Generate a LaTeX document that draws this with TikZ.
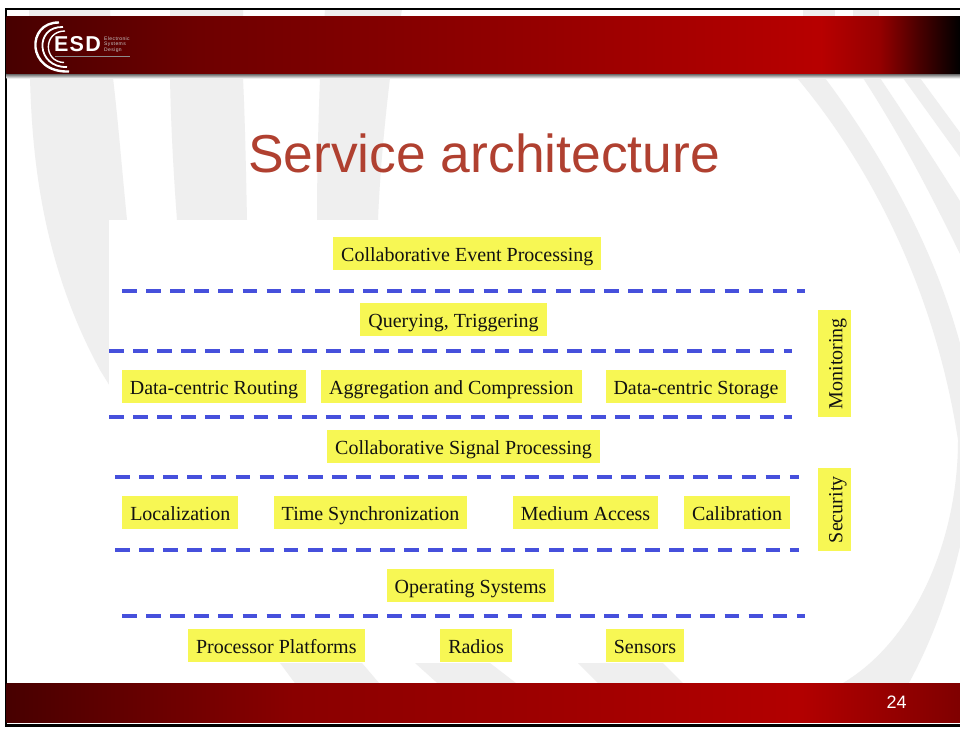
\documentclass[tikz,border=0pt]{standalone}
\usepackage{fontspec}
\setmainfont{Liberation Serif}
\setsansfont{Liberation Sans}
\usetikzlibrary{positioning}
\definecolor{boxyellow}{RGB}{247,247,84}
\definecolor{lineblue}{RGB}{70,80,220}
\definecolor{titlered}{RGB}{176,64,48}
\definecolor{bandgray}{RGB}{239,239,239}
\pgfdeclarehorizontalshading{headband}{100bp}{rgb(0bp)=(0.28,0,0);rgb(25bp)=(0.28,0,0);rgb(35bp)=(0.43,0,0);rgb(50bp)=(0.56,0,0);rgb(67.7bp)=(0.72,0,0);rgb(70.8bp)=(0.58,0,0);rgb(72.9bp)=(0.28,0,0);rgb(75bp)=(0,0,0);rgb(100bp)=(0,0,0)}
\pgfdeclarehorizontalshading{footband}{100bp}{rgb(0bp)=(0.28,0,0);rgb(25bp)=(0.28,0,0);rgb(40bp)=(0.54,0,0);rgb(66.6bp)=(0.70,0,0);rgb(75bp)=(0.50,0,0);rgb(100bp)=(0.50,0,0)}
\begin{document}
\begin{tikzpicture}
[x=1pt,y=-1pt,
srv/.style={fill=boxyellow,text=black!93,font=\fontsize{20}{20}\selectfont,inner xsep=8pt,inner ysep=0pt,outer sep=0pt,text height=24.7pt,text depth=8.3pt},
sep/.style={draw=lineblue,line width=4pt,dash pattern=on 14.7pt off 9.4pt},
band/.style={fill=bandgray,draw=none}]
\useasboundingbox (0,0) rectangle (960,731);
\fill[white] (0,0) rectangle (960,731);
% background swooshes
\fill[band] (29,9.5) -- (30,78) .. controls (32,150) and (40,260) .. (100,370) -- (280,663) -- (300,690) -- (385,690) -- (362,663) -- (127,220) .. controls (122,170) and (118,120) .. (113,78) -- (110,9.5) -- cycle;
\fill[band] (170,9.5) -- (170,78) .. controls (171,130) and (174,180) .. (177,220) -- (415,663) -- (445,690) -- (525,690) -- (490,663) -- (247,220) .. controls (246,170) and (245,120) .. (243,78) -- (243,9.5) -- cycle;
\fill[band] (325,9.5) -- (320,78) .. controls (318,130) and (317,180) .. (317,220) -- (578,663) -- (605,690) -- (690,690) -- (663,663) -- (378,220) .. controls (380,170) and (385,120) .. (390,78) -- (402,9.5) -- cycle;
\fill[band] (797,78) .. controls (870,165) and (935,290) .. (958,440) .. controls (958,540) and (915,640) .. (843,683) -- (838,690) -- (905,690) .. controls (945,620) and (975,520) .. (975,420) .. controls (960,290) and (890,165) .. (825,78) -- cycle;
\fill[band] (863,78) .. controls (890,120) and (920,170) .. (975,285) -- (975,225) .. controls (950,185) and (915,130) .. (880,78) -- cycle;
\fill[band] (903,78) -- (975,178) -- (975,153) -- (920,78) -- cycle;
\fill[band] (803,9.5) rectangle (835,17);
\fill[band] (853,9.5) rectangle (879,17);
\fill[white] (109,220) rectangle (870,663);
% frame and bars
\fill[black] (4.5,7.5) rectangle (960,9.5);
\fill[black] (4.5,7.5) rectangle (6.5,726.5);
\fill[black] (4.5,724) rectangle (960,726.5);
\shade[top color=black!65,bottom color=white] (6.5,73.5) rectangle (960,78.5);
\shade[shading=headband] (6.5,16.5) rectangle (960,73.5);
\shade[shading=footband] (6.5,683.5) rectangle (960,722.7);
% logo
\draw[white,line width=2.4pt] (59,22.5) .. controls (26,22) and (26,73) .. (69,71.5);
\draw[white,line width=1.8pt] (63,27) .. controls (34,26) and (36,68) .. (67,67);
\draw[white,line width=1.4pt] (65,31) .. controls (43,31) and (43,62) .. (64,62.5);
\node[font=\sffamily\bfseries\fontsize{21.5}{22}\selectfont\addfontfeature{LetterSpace=6},text=white,inner sep=0pt] (esd) at (77.5,44) {ESD};
\node[font=\sffamily\fontsize{5}{5.4}\selectfont\addfontfeature{LetterSpace=8},text=white!78!black,inner sep=0pt,align=left,anchor=west] (esdname) at (104,44.5) {Electronic\\Systems\\Design};
\coordinate (stra) at (55,56.5); \coordinate (strb) at (130,56.5);
\draw[white!55!black,line width=1pt] (stra) -- (strb);
% title and page number
\node[font=\sffamily\fontsize{53.4}{53.4}\selectfont,text=titlered,anchor=base,inner sep=0pt] (title) at (484,172.7) {Service architecture};
\node[font=\sffamily\fontsize{18}{18}\selectfont,text=white,anchor=base,inner sep=0pt] (page) at (896.7,708) {24};
% service boxes
\node[srv] (event) at (467.25,253.7) {Collaborative Event Processing};
\node[srv,below=33pt of event,xshift=-13.75pt] (query) {Querying, Triggering};
\node[srv,below=33.5pt of query,xshift=-239.5pt] (routing) {Data-centric Routing};
\node[srv,right=15pt of routing] (aggreg) {Aggregation and Compression};
\node[srv,right=24pt of aggreg] (storage) {Data-centric Storage};
\node[srv,below=27.3pt of routing,xshift=249.5pt] (signal) {Collaborative Signal Processing};
\node[srv,below=33pt of signal,xshift=-283.25pt] (local) {Localization};
\node[srv,right=35.5pt of local] (timesync) {Time Synchronization};
\node[srv,right=45.5pt of timesync] (medium) {Medium Access};
\node[srv,right=26pt of medium] (calib) {Calibration};
\node[srv,below=40pt of local,xshift=290.25pt] (opsys) {Operating Systems};
\node[srv,below=27pt of opsys,xshift=-194.2pt] (proc) {Processor Platforms};
\node[srv,right=75.7pt of proc] (radios) {Radios};
\node[srv,right=94pt of radios] (sensors) {Sensors};
\node[srv,rotate=90] (monitor) at (834.25,363.75) {Monitoring};
\node[srv,rotate=90] (secur) at (834.25,509.7) {Security};
% separators
\coordinate (s1a) at (122,291); \coordinate (s1b) at (805,291);
\coordinate (s2a) at (109,351); \coordinate (s2b) at (792,351);
\coordinate (s3a) at (109,417); \coordinate (s3b) at (792,417);
\coordinate (s4a) at (115,477); \coordinate (s4b) at (799,477);
\coordinate (s5a) at (115,549.5); \coordinate (s5b) at (799,549.5);
\coordinate (s6a) at (122,616); \coordinate (s6b) at (805,616);
\draw[sep] (s1a) -- (s1b);
\draw[sep] (s2a) -- (s2b);
\draw[sep] (s3a) -- (s3b);
\draw[sep] (s4a) -- (s4b);
\draw[sep] (s5a) -- (s5b);
\draw[sep] (s6a) -- (s6b);
\end{tikzpicture}
\end{document}
